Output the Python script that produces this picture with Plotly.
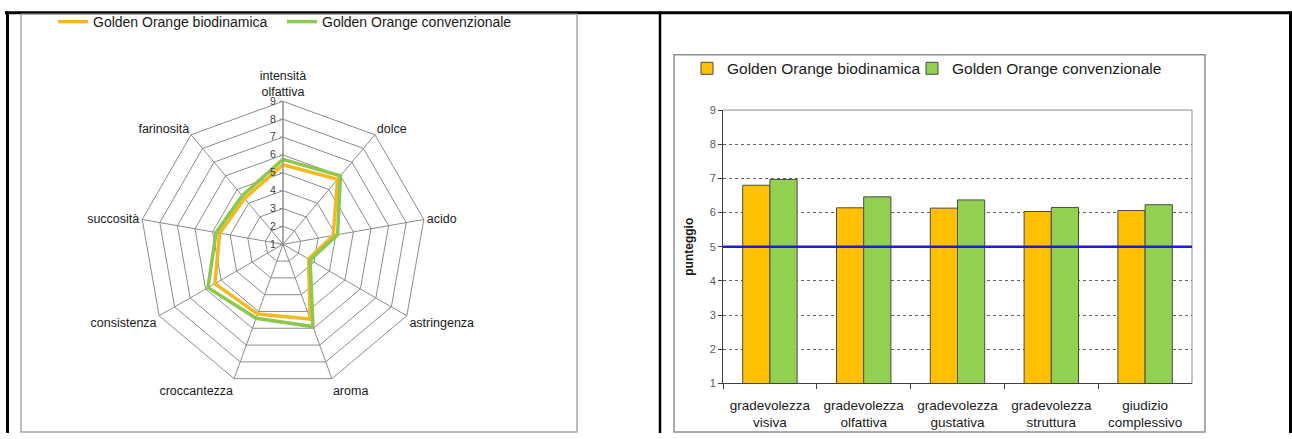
import plotly.graph_objects as go

W, H = 1292, 439

# ---- sensory profile (radar) ----
attributes = ["intensità<br>olfattiva", "dolce", "acido", "astringenza", "aroma",
              "croccantezza", "consistenza", "succosità", "farinosità"]
radar_bio = [5.45, 5.75, 3.85, 2.65, 5.45, 5.15, 5.4, 4.6, 4.35]
radar_conv = [5.75, 6.0, 4.1, 2.75, 5.9, 5.4, 5.85, 4.8, 4.55]

# ---- liking scores (bars) ----
liking = ["gradevolezza<br>visiva", "gradevolezza<br>olfattiva", "gradevolezza<br>gustativa",
          "gradevolezza<br>struttura", "giudizio<br>complessivo"]
bar_bio = [6.8, 6.14, 6.13, 6.03, 6.06]
bar_conv = [6.97, 6.46, 6.37, 6.15, 6.23]
threshold = 5

series_names = ["Golden Orange biodinamica", "Golden Orange convenzionale"]
FONT = "Liberation Sans, Arial, sans-serif"


def px(x):
    return x / W


def py(y):
    return 1 - y / H


fig = go.Figure()

# radar series (closed loops), one legend box per entry
for name, vals, col, lg in [(series_names[0], radar_bio, "#F4B822", "legend"),
                            (series_names[1], radar_conv, "#8DC84E", "legend2")]:
    fig.add_trace(go.Scatterpolar(
        r=vals + vals[:1], theta=attributes + attributes[:1],
        mode="lines", name=name, line=dict(color=col, width=3.5),
        legend=lg, showlegend=True, hoverinfo="skip"))

# grouped bars
for name, vals, col, lg in [(series_names[0], bar_bio, "#FFC000", "legend3"),
                            (series_names[1], bar_conv, "#92D050", "legend4")]:
    fig.add_trace(go.Bar(
        x=liking, y=vals, name=name, marker=dict(color=col, line=dict(color="#4a4a4a", width=1)),
        legend=lg, showlegend=True, hoverinfo="skip"))

shapes = []
# outer table rules
shapes.append(dict(type="line", xref="paper", yref="paper", x0=px(5), x1=px(1292), y0=py(7), y1=py(7),
                   line=dict(color="black", width=3)))
for xx, wd in [(7.5, 3), (660, 2.5), (1290.5, 3)]:
    shapes.append(dict(type="line", xref="paper", yref="paper", x0=px(xx), x1=px(xx), y0=py(6), y1=0,
                       line=dict(color="black", width=wd)))
# chart frames
shapes.append(dict(type="rect", xref="paper", yref="paper", x0=px(21), x1=px(577), y0=py(8.5), y1=py(438),
                   line=dict(color="#a8a8a8", width=1.5)))
shapes.append(dict(type="rect", xref="paper", yref="paper", x0=px(674), x1=px(1205), y0=py(50), y1=py(438),
                   line=dict(color="#909090", width=1.5)))
# plot-area border (top and right)
shapes.append(dict(type="path", xref="paper", yref="paper",
                   path=f"M {px(723)},{py(107)} L {px(1192)},{py(107)} L {px(1192)},{py(388)}",
                   line=dict(color="#8a8a8a", width=1)))
# reference line at score 5
shapes.append(dict(type="line", xref="x domain", yref="y", x0=0, x1=1, y0=threshold, y1=threshold,
                   line=dict(color="#1c1ce0", width=2.5), layer="above"))


def legend_box(x, y, size):
    return dict(orientation="h", x=x, y=y, xanchor="left", yanchor="top",
                font=dict(size=size, color="#1a1a1a"), bgcolor="rgba(0,0,0,0)",
                itemclick=False, itemdoubleclick=False)


fig.update_layout(
    width=W, height=H, margin=dict(l=0, r=0, t=0, b=0),
    paper_bgcolor="white", plot_bgcolor="white",
    font=dict(family=FONT, color="#1a1a1a"),
    showlegend=True,
    shapes=shapes,
    barmode="group", bargap=0.42, bargroupgap=0,
    polar=dict(
        domain=dict(x=[px(136), px(430)], y=[py(392), py(98)]),
        bgcolor="white", gridshape="linear",
        angularaxis=dict(direction="clockwise", rotation=90, showline=True, linecolor="#8c8c8c",
                         linewidth=1, gridcolor="#8c8c8c", gridwidth=1, ticks="",
                         tickfont=dict(size=12.5, color="#1a1a1a")),
        radialaxis=dict(range=[1, 9], dtick=1, tick0=1, angle=90, tickangle=90, side="counterclockwise",
                        showline=True, linecolor="#8c8c8c", gridcolor="#8c8c8c", gridwidth=1,
                        ticks="outside", ticklen=3, tickcolor="#8c8c8c",
                        tickfont=dict(size=10.5, color="#404040")),
    ),
    xaxis=dict(domain=[px(723), px(1192)], type="category", tickson="boundaries", ticks="outside",
               ticklen=5, tickcolor="#404040", showline=True, linecolor="#404040", linewidth=1,
               showgrid=False, ticklabelstandoff=9, tickfont=dict(size=13.5, color="#1a1a1a")),
    yaxis=dict(domain=[py(388), py(107)], range=[1, 9], dtick=1, ticks="outside", ticklen=4,
               tickcolor="#404040", showline=True, linecolor="#404040", linewidth=1,
               showgrid=True, gridcolor="#606060", griddash="dot", gridwidth=1, zeroline=False,
               tickfont=dict(size=11, color="#595959"),
               title=dict(text="<b>punteggio</b>", font=dict(size=12, color="#1a1a1a"), standoff=13)),
    legend=legend_box(px(53), py(0), 14),
    legend2=legend_box(px(282), py(0), 14),
    legend3=legend_box(px(687), py(47), 15.5),
    legend4=legend_box(px(912), py(47), 15.5),
)

fig.write_html("out.html")
